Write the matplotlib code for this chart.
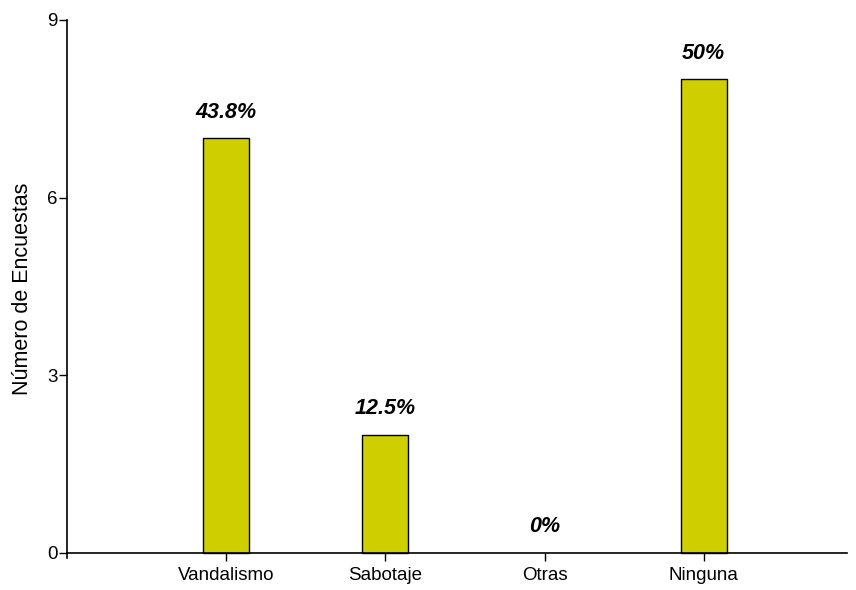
import matplotlib
matplotlib.use("Agg")
import matplotlib.pyplot as plt
import numpy as np

plt.rcParams['font.family'] = ['Liberation Sans', 'DejaVu Sans']

categories = ["Vandalismo", "Sabotaje", "Otras", "Ninguna"]
counts = [7, 2, 0, 8]
percent_labels = ["43.8%", "12.5%", "0%", "50%"]
y_ticks = [0, 3, 6, 9]

fig = plt.figure(figsize=(8.56, 5.90), dpi=100)
ax = fig.add_axes([67 / 856, 1 - 558 / 590, (847 - 67) / 856, (558 - 20) / 590])

x = np.arange(len(categories))
# no outline on empty bars, the reference shows nothing for "Otras"
edge_widths = [1.0 if c > 0 else 0 for c in counts]
ax.bar(x, counts, width=0.29, color="#cfcf00", edgecolor="black", linewidth=edge_widths, zorder=2)

for xi, c, lab in zip(x, counts, percent_labels):
    ax.text(xi, c + 0.44, lab, ha="center", va="center", fontsize=15.5,
            fontweight="bold", fontstyle="italic")

ax.set_xlim(-1, 3.9)
ax.set_ylim(-0.085, 9)
ax.set_yticks(y_ticks)
ax.set_xticks(x)
ax.set_xticklabels(categories)
ax.tick_params(axis="y", labelsize=13.5, length=6, width=1, direction="out", pad=1)
ax.tick_params(axis="x", labelsize=13.5, length=6, width=1, direction="out", pad=4)

ax.spines["top"].set_visible(False)
ax.spines["right"].set_visible(False)
ax.spines["bottom"].set_position(("data", 0))
ax.spines["left"].set_linewidth(1.2)
ax.spines["bottom"].set_linewidth(1.2)
ax.spines["left"].set_zorder(3)
ax.spines["bottom"].set_zorder(3)

ax.set_ylabel("Número de Encuestas", fontsize=15.5)
ax.yaxis.set_label_coords(-0.044, 0.5)

fig.savefig("out.png", dpi=100)
